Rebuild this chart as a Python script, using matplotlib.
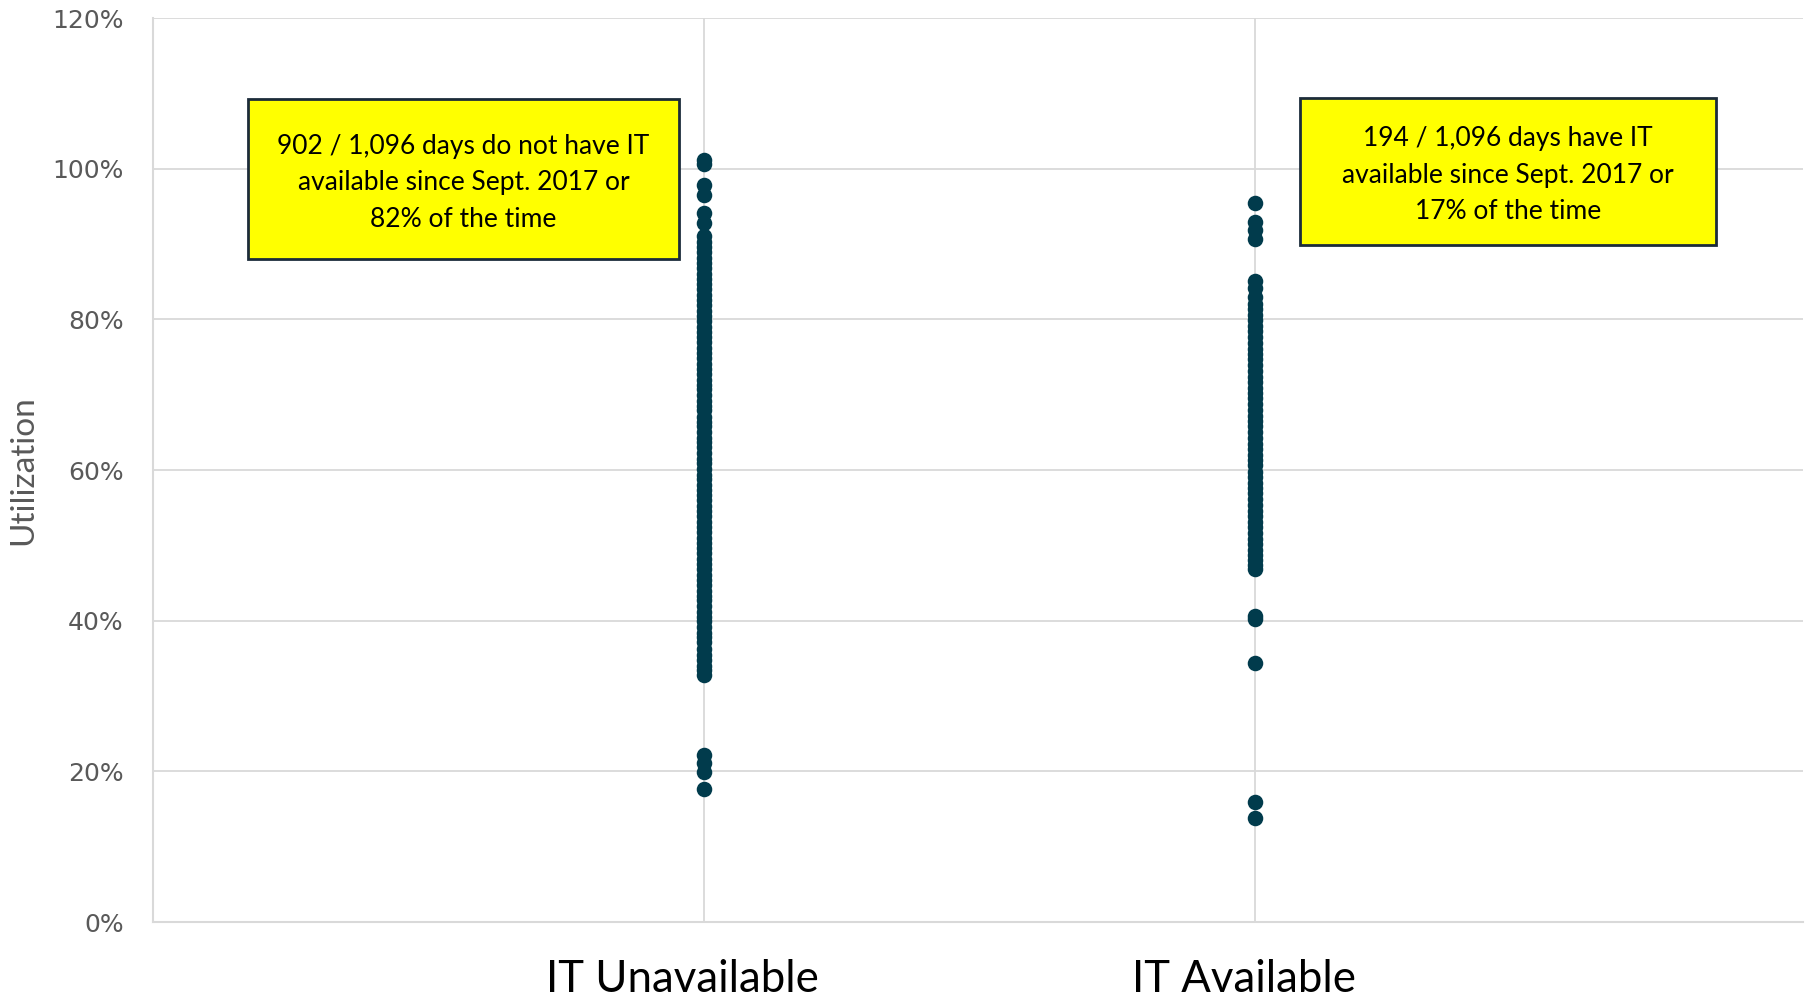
import numpy as np
import matplotlib
matplotlib.use("Agg")
from matplotlib import pyplot as plt
from matplotlib.patches import Rectangle

# -----------------------------------------------------------#
# Daily utilization (%) split by IT availability
# -----------------------------------------------------------#
categories = ["IT Unavailable", "IT Available"]

unavail_top = [101.2, 100.6, 97.8, 96.5, 94.1, 92.8]
unavail_mid = [91.0, 90.2, 89.6, 88.9, 88.1, 87.5, 86.8, 86.0, 85.3, 84.7,
               84.0, 83.2, 82.6, 81.9, 81.1, 80.4, 79.8, 79.0, 78.3, 77.7,
               77.0, 76.2, 75.5, 74.9, 74.1, 73.4, 72.8, 72.0, 71.3, 70.7,
               70.0, 69.2, 68.5, 67.9, 67.1, 66.4, 65.8, 65.0, 64.3, 63.7,
               63.0, 62.2, 61.5, 60.9, 60.1, 59.4, 58.8, 58.0, 57.3, 56.7,
               56.0, 55.2, 54.5, 53.9, 53.1, 52.4, 51.8, 51.0, 50.3, 49.7,
               49.0, 48.2, 47.5, 46.9, 46.1, 45.4, 44.8, 44.0, 43.3, 42.7,
               42.0, 41.2, 40.5, 39.9, 39.1, 38.4, 37.8, 37.2]
unavail_low = [36.3, 35.5, 34.8, 34.0, 33.4, 32.8, 22.2, 21.1, 19.9, 17.7]

avail_top = [95.4, 92.9, 91.9, 90.7]
avail_mid = [85.1, 84.2, 83.0, 82.1, 81.4, 80.6, 79.9, 79.1, 78.4, 77.6,
             76.9, 76.1, 75.4, 74.7, 73.9, 73.2, 72.4, 71.7, 70.9, 70.2,
             69.5, 68.7, 68.0, 67.2, 66.5, 65.8, 65.0, 64.3, 63.5, 62.8,
             62.0, 61.3, 60.6, 59.8, 59.1, 58.3, 57.6, 56.9, 56.1, 55.4,
             54.6, 53.9, 53.1, 52.4, 51.7, 50.9, 50.2, 49.4, 48.7, 48.0,
             47.4, 46.8]
avail_low = [40.6, 40.2, 34.4, 15.9, 13.8]

notes = ["902 / 1,096 days do not have IT\navailable since Sept. 2017 or\n82% of the time",
         "194 / 1,096 days have IT\navailable since Sept. 2017 or\n17% of the time"]

unavail = np.array(unavail_top + unavail_mid + unavail_low)
avail = np.array(avail_top + avail_mid + avail_low)

dot_col = "#013b4c"
grid_col = "#d9d9d9"
txt_col = "#595959"

# -----------------------------------------------------------#
# Figure
# -----------------------------------------------------------#
fig = plt.figure(figsize=(18.07, 10.02), dpi=100)
ax = fig.add_axes([153/1807, 80/1002, 1650/1807, 904/1002])

ax.scatter(np.full(len(unavail), 1), unavail, s=125, color=dot_col, zorder=3, linewidths=0)
ax.scatter(np.full(len(avail), 2), avail, s=125, color=dot_col, zorder=3, linewidths=0)

ax.set_xlim(0, 2.995)
ax.set_ylim(0, 120)
ax.set_yticks(np.arange(0, 121, 20))
ax.set_yticklabels([str(v) + "%" for v in range(0, 121, 20)])
ax.set_xticks([1, 2])
ax.set_xticklabels([])
ax.tick_params(axis="both", length=0)
ax.tick_params(axis="y", labelsize=18, labelcolor=txt_col, pad=21)
ax.grid(True, color=grid_col, linewidth=1.3, zorder=0)
for s in ["top", "right"]:
    ax.spines[s].set_visible(False)
for s in ["left", "bottom"]:
    ax.spines[s].set_color(grid_col)
    ax.spines[s].set_linewidth(1.5)

ax.set_ylabel("Utilization", fontsize=24, color=txt_col, family="Lato", labelpad=10)

# category names under the axis
for xc, name in zip([0.960, 1.981], categories):
    ax.text(xc, -0.064, name, transform=ax.get_xaxis_transform(), ha="center", va="center",
            fontsize=31.5, family="Lato", color="black")

# -----------------------------------------------------------#
# Call-out boxes
# -----------------------------------------------------------#
boxes = [(0.172, 88.0, 0.783, 21.2), (2.082, 89.9, 0.755, 19.5)]
for (bx, by, bw, bh), note in zip(boxes, notes):
    ax.add_patch(Rectangle((bx, by), bw, bh, facecolor="#ffff00", edgecolor="#1c2b3a",
                           linewidth=2, zorder=4, clip_on=False))
    ax.text(bx + bw/2, by + bh/2 - 0.5, note, ha="center", va="center", fontsize=19,
            family="Lato", linespacing=1.58, zorder=5)

fig.savefig("out.png", dpi=100)
